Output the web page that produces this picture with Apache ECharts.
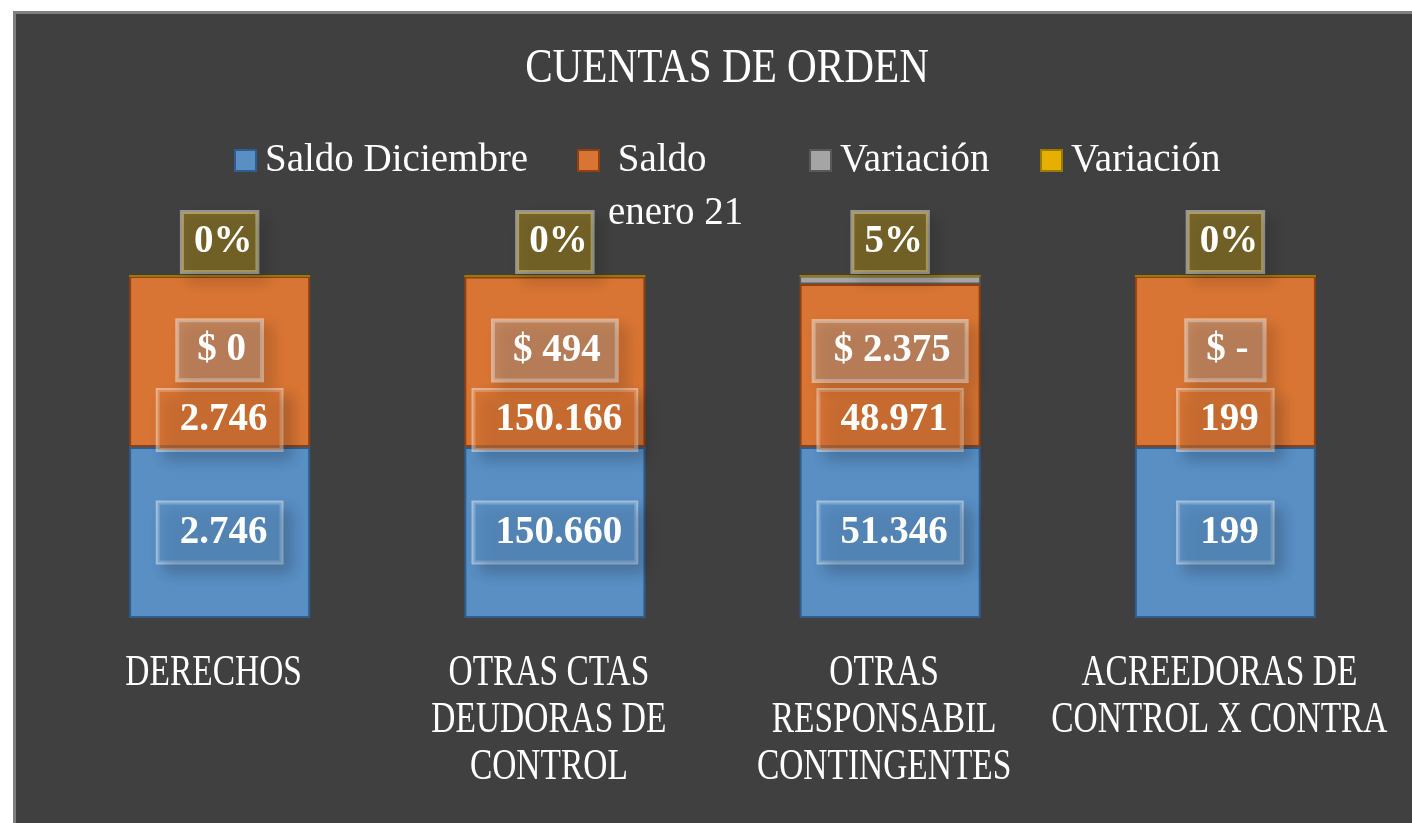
<!DOCTYPE html>
<html>
<head>
<meta charset="utf-8">
<script src="https://cdn.jsdelivr.net/npm/echarts@6/dist/echarts.min.js"></script>
<style>
  html, body { margin: 0; padding: 0; background: #ffffff; width: 1412px; height: 823px; overflow: hidden; }
  #frame { position: absolute; left: 13px; top: 11px; width: 1420px; height: 830px; background: #404040;
           border-left: 3px solid #7f7f7f; border-top: 3px solid #7f7f7f; }
  #chart { position: absolute; left: 0; top: 0; width: 1412px; height: 823px; }
</style>
</head>
<body>
<div id="frame"></div>
<div id="chart"></div>
<script>
// ---- data ----
const titleText = 'CUENTAS DE ORDEN';
const categories = ['DERECHOS', 'OTRAS CTAS\nDEUDORAS DE\nCONTROL', 'OTRAS\nRESPONSABIL\nCONTINGENTES', 'ACREEDORAS DE\nCONTROL X CONTRA'];
const seriesNames = ['Saldo Diciembre', 'Saldo enero 21', 'Variación $', 'Variación %'];
const legendLabels = ['Saldo Diciembre', '\u00a0\n Saldo\nenero 21', 'Variación', 'Variación'];
const saldoDiciembre = [2746, 150660, 51346, 199];
const saldoEnero21 = [2746, 150166, 48971, 199];
const variacionPesos = [0.4, 494, 2375, 0];
const variacionPct = [0, 0.0033, 0.0485, 0];

// ---- helpers ----
function fmtNum(v) {
  return Math.round(v).toString().replace(/\B(?=(\d{3})+(?!\d))/g, '.');
}
const totals = categories.map((c, i) => saldoDiciembre[i] + saldoEnero21[i] + variacionPesos[i] + variacionPct[i]);
const share = arr => arr.map((v, i) => v / totals[i] * 100);

const FONT = 'Liberation Serif';
const baseLabel = {
  show: true, color: '#ffffff', fontFamily: FONT, fontWeight: 'bold', fontSize: 39, lineHeight: 42,
  borderColor: 'rgba(255,255,255,0.45)', borderWidth: 2, padding: [9, 14, 9, 22],
  shadowColor: 'rgba(0,0,0,0.35)', shadowBlur: 14, shadowOffsetX: 8, shadowOffsetY: 8
};

const colors = ['#5a8fc4', '#d87534', '#a5a5a5', '#e6b000'];
const borders = ['#2f5e8e', '#8f4113', '#595959', '#9c7a00'];

const chart = echarts.init(document.getElementById('chart'), null, { renderer: 'canvas' });

function legendFor(idx, left, top) {
  return {
    show: true, data: [seriesNames[idx]], left: left, top: top, padding: 0, orient: 'horizontal',
    itemWidth: 21, itemHeight: 21, icon: 'rect', selectedMode: false,
    formatter: () => legendLabels[idx],
    textStyle: { color: '#ffffff', fontFamily: FONT, fontSize: 39, lineHeight: 53, padding: [0, 0, 0, 4] }
  };
}

const option = {
  backgroundColor: 'transparent',
  animation: false,
  legend: [
    legendFor(0, 234, 134),
    legendFor(1, 577, 81),
    legendFor(2, 809, 134),
    legendFor(3, 1040, 134)
  ],
  grid: { left: 52, right: 19, top: 276, bottom: 205, outerBoundsMode: 'none' },
  xAxis: {
    type: 'category', data: categories,
    axisLine: { show: false }, axisTick: { show: false }, axisLabel: { show: false }, splitLine: { show: false }
  },
  yAxis: {
    type: 'value', min: 0, max: 100, show: false, splitLine: { show: false }
  },
  series: [
    {
      name: seriesNames[0], type: 'bar', stack: 'total', barWidth: '54%',
      data: share(saldoDiciembre),
      itemStyle: { color: colors[0], borderColor: borders[0], borderWidth: 2 },
      label: Object.assign({}, baseLabel, {
        position: 'inside', backgroundColor: 'rgba(90,143,196,0.55)',
        formatter: p => fmtNum(saldoDiciembre[p.dataIndex])
      }),
      emphasis: { disabled: true }
    },
    {
      name: seriesNames[1], type: 'bar', stack: 'total',
      data: share(saldoEnero21),
      itemStyle: { color: colors[1], borderColor: borders[1], borderWidth: 2 },
      label: Object.assign({}, baseLabel, {
        position: 'insideBottom', distance: -3, backgroundColor: 'rgba(216,117,52,0.55)',
        formatter: p => fmtNum(saldoEnero21[p.dataIndex])
      }),
      emphasis: { disabled: true }
    },
    {
      name: seriesNames[2], type: 'bar', stack: 'total',
      data: share(variacionPesos),
      itemStyle: { color: colors[2], borderColor: borders[2], borderWidth: 1.5 },
      label: Object.assign({}, baseLabel, {
        position: 'top', distance: 0, offset: [0, 105], backgroundColor: 'rgba(165,165,165,0.35)',
        padding: [9, 16, 9, 20],
        formatter: p => { const v = variacionPesos[p.dataIndex]; return v === 0 ? '$ -' : '$ ' + fmtNum(v); }
      }),
      emphasis: { disabled: true }
    },
    {
      name: seriesNames[3], type: 'bar', stack: 'total',
      data: share(variacionPct),
      itemStyle: { color: colors[3], borderColor: borders[3], borderWidth: 2 },
      label: Object.assign({}, baseLabel, {
        position: 'top', distance: 3, backgroundColor: 'rgba(229,176,0,0.33)',
        padding: [9, 5, 9, 12],
        formatter: p => Math.round(variacionPct[p.dataIndex] * 100) + '%'
      }),
      emphasis: { disabled: true }
    }
  ]
};

chart.setOption(option);

// Title and category labels drawn as condensed real text
const graphics = [{
  type: 'text', x: 727, y: 69, scaleX: 0.84, silent: true,
  style: { text: titleText, fill: '#ffffff', font: '49px "Liberation Serif", serif', align: 'center', verticalAlign: 'middle' }
}];
categories.forEach((c, i) => {
  const px = chart.convertToPixel({ xAxisIndex: 0 }, i);
  graphics.push({
    type: 'text', x: px - 6, y: 650, scaleX: 0.76, silent: true,
    style: { text: c, fill: '#ffffff', font: '44px "Liberation Serif", serif', lineHeight: 47, align: 'center', verticalAlign: 'top' }
  });
});
chart.setOption({ graphic: { elements: graphics } });
</script>
</body>
</html>
